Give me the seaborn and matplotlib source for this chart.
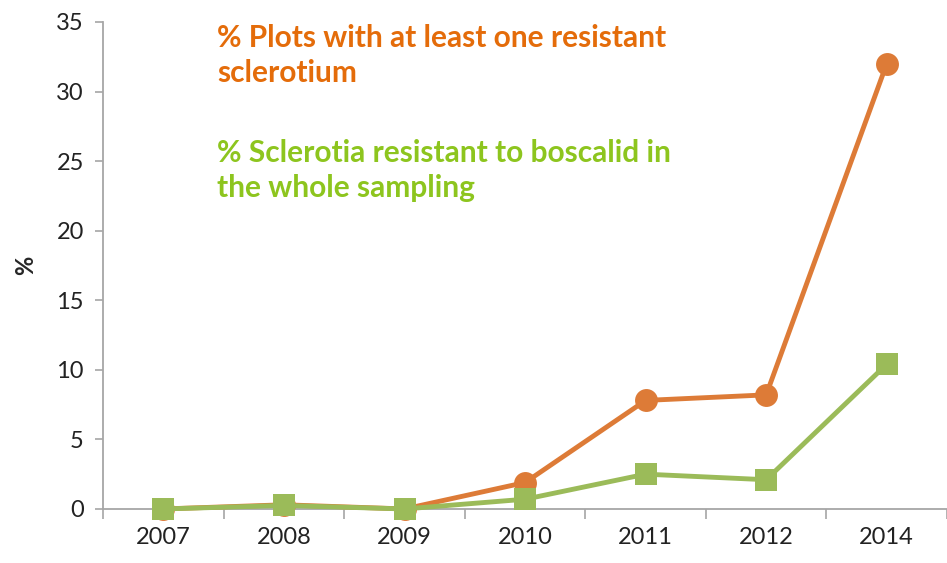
import numpy as np
import pandas as pd
import matplotlib
matplotlib.use("Agg")
import matplotlib.pyplot as plt
import seaborn as sns
from matplotlib.ticker import FixedLocator

# data
years = ["2007", "2008", "2009", "2010", "2011", "2012", "2014"]
plots_pct = [0.0, 0.3, 0.0, 1.9, 7.8, 8.2, 32.0]
sclerotia_pct = [0.0, 0.25, 0.0, 0.7, 2.5, 2.1, 10.4]
label_plots = "% Plots with at least one resistant\nsclerotium"
label_scler = "% Sclerotia resistant to boscalid in\nthe whole sampling"

orange_line = "#DD7B37"
green_line = "#9BBB59"
orange_txt = "#E46C0A"
green_txt = "#8DC51E"
axis_grey = "#A6A6A6"

sns.set_style("white")
plt.rcParams["font.family"] = ["Lato", "DejaVu Sans"]

df = pd.DataFrame({"year": years, "plots": plots_pct, "scler": sclerotia_pct})

fig = plt.figure(figsize=(9.47, 5.63), dpi=100)
ax = fig.add_axes([0.109, 0.096, 0.891, 0.865])

sns.lineplot(data=df, x="year", y="plots", ax=ax, color=orange_line,
             lw=3.5, marker="o", markersize=16.5, markeredgewidth=0, sort=False)
sns.lineplot(data=df, x="year", y="scler", ax=ax, color=green_line,
             lw=3.5, marker="s", markersize=16.5, markeredgewidth=0, sort=False)
# markers sitting on zero shouldn't be cut in half
for ln in ax.lines:
    ln.set_clip_on(False)
    ln.set_zorder(3)

ax.set_xlim(-0.5, len(years) - 0.5)
ax.set_ylim(0, 35)
ax.set_yticks(np.arange(0, 36, 5))
ax.set_xticks(range(len(years)))
ax.set_xticklabels(years)
ax.xaxis.set_minor_locator(FixedLocator(np.arange(-0.5, len(years), 1)))

for s in ["top", "right"]:
    ax.spines[s].set_visible(False)
for s in ["left", "bottom"]:
    ax.spines[s].set_color(axis_grey)
    ax.spines[s].set_linewidth(1.3)

ax.tick_params(axis="y", which="major", direction="out", length=6, width=1.2,
               color=axis_grey, labelsize=17, labelcolor="#222222", left=True, pad=8)
ax.tick_params(axis="x", which="major", length=0, labelsize=17,
               labelcolor="#222222", pad=13)
ax.tick_params(axis="x", which="minor", direction="out", length=7, width=1.2,
               color=axis_grey, bottom=True)

ax.set_xlabel("")
ax.set_ylabel("%", fontsize=17, fontweight="bold", labelpad=14)

ax.text(0.135, 0.995, label_plots, transform=ax.transAxes, color=orange_txt,
        fontsize=21.5, fontweight="bold", va="top", ha="left", linespacing=1.28)
ax.text(0.135, 0.759, label_scler, transform=ax.transAxes, color=green_txt,
        fontsize=21.5, fontweight="bold", va="top", ha="left", linespacing=1.28)

fig.savefig("out.png", dpi=100)
